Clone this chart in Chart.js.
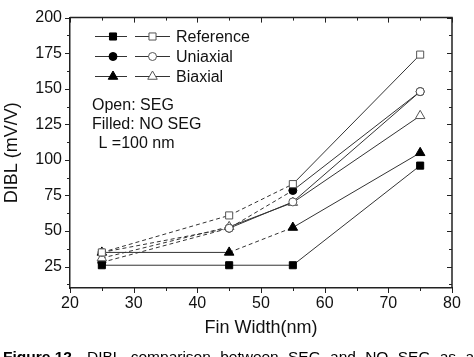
<!DOCTYPE html>
<html><head><meta charset="utf-8">
<script src="https://cdn.jsdelivr.net/npm/chart.js@4"></script>
<style>html,body{margin:0;padding:0;background:#fff;} canvas{display:block}</style>
</head><body>
<canvas id="c" width="474" height="357"></canvas>
<script>
// ---- data ----
const finWidth = [25, 45, 55, 75];
const refNoSeg = [26, 26, 26, 96];
const refSeg   = [35, 61, 83, 174];
const uniNoSeg = [28, 52, 78.5, 148];
const uniSeg   = [35, 52, 70.5, 148];
const biNoSeg  = [35, 35, 52.5, 105];
const biSeg    = [31, 53, 70, 131];
const xTicks = [20, 30, 40, 50, 60, 70, 80];
const yTicks = [25, 50, 75, 100, 125, 150, 175, 200];
const legendLabels = ['Reference', 'Uniaxial', 'Biaxial'];
const noteLines = ['Open: SEG', 'Filled: NO SEG', ' L =100 nm'];
const xTitle = 'Fin Width(nm)';
const yTitle = 'DIBL (mV/V)';
const captionBold = 'Figure 12.';
const captionText = 'DIBL comparison between SEG and NO SEG as a';

// ---- styles ----
const FONT = 'Arial, "Liberation Sans", sans-serif';
Chart.defaults.font.family = FONT;
const LINE = '#333';
const OPEN = '#555';
const DASH = [4, 3];

function pts(arr) { return finWidth.map((x, i) => ({ x: x, y: arr[i] })); }
function ds(label, arr, shape, filled, dashFlags, radius) {
  return {
    label: label,
    data: pts(arr),
    showLine: true,
    borderColor: LINE,
    borderWidth: 1,
    pointStyle: shape,
    pointRadius: radius,
    pointBorderWidth: 1,
    pointBackgroundColor: filled ? '#000' : '#fff',
    pointBorderColor: filled ? '#000' : OPEN,
    segment: { borderDash: c => dashFlags[c.p0DataIndex] ? DASH : undefined }
  };
}

const datasets = [
  ds('Reference SEG', refSeg, 'rect', false, [1, 1, 0], 5),
  ds('Uniaxial SEG', uniSeg, 'circle', false, [1, 0, 0], 4),
  ds('Biaxial SEG', biSeg, 'triangle', false, [1, 0, 0], 5.5),
  ds('Reference NO SEG', refNoSeg, 'rect', true, [0, 0, 0], 5),
  ds('Uniaxial NO SEG', uniNoSeg, 'circle', true, [1, 1, 0], 4),
  ds('Biaxial NO SEG', biNoSeg, 'triangle', true, [0, 1, 0], 5.5)
];

function minors(t) {
  const out = [];
  for (let i = 0; i < t.length - 1; i++) out.push((t[i] + t[i + 1]) / 2);
  return out;
}

const decor = {
  id: 'decor',
  afterDraw(chart) {
    const { ctx, chartArea: a, scales: { x, y } } = chart;
    ctx.save();
    ctx.strokeStyle = '#222';
    ctx.lineWidth = 1.5;
    ctx.beginPath();
    ctx.moveTo(a.left, a.top); ctx.lineTo(a.right, a.top); ctx.lineTo(a.right, a.bottom);
    ctx.stroke();
    ctx.lineWidth = 1;
    ctx.beginPath();
    const xm = minors(xTicks), ym = minors(yTicks).concat([yTicks[0] - (yTicks[1] - yTicks[0]) / 2]);
    xTicks.forEach(v => { const p = Math.round(x.getPixelForValue(v)) + 0.5;
      ctx.moveTo(p, a.bottom); ctx.lineTo(p, a.bottom + 5);
      ctx.moveTo(p, a.top); ctx.lineTo(p, a.top + 5); });
    xm.forEach(v => { const p = Math.round(x.getPixelForValue(v)) + 0.5;
      ctx.moveTo(p, a.bottom); ctx.lineTo(p, a.bottom + 3);
      ctx.moveTo(p, a.top); ctx.lineTo(p, a.top + 3); });
    yTicks.forEach(v => { const p = Math.round(y.getPixelForValue(v)) + 0.5;
      ctx.moveTo(a.left - 5, p); ctx.lineTo(a.left, p);
      ctx.moveTo(a.right - 5, p); ctx.lineTo(a.right, p); });
    ym.forEach(v => { const p = Math.round(y.getPixelForValue(v)) + 0.5;
      ctx.moveTo(a.left - 3, p); ctx.lineTo(a.left, p);
      ctx.moveTo(a.right - 3, p); ctx.lineTo(a.right, p); });
    ctx.stroke();

    // legend (filled + open marker per row)
    const metas = chart.data.datasets;
    const rows = [[3, 0], [4, 1], [5, 2]];
    ctx.font = '16px ' + FONT;
    ctx.fillStyle = '#111';
    ctx.textBaseline = 'alphabetic';
    rows.forEach((r, i) => {
      const cy = 36.5 + i * 20;
      ctx.strokeStyle = LINE; ctx.lineWidth = 1;
      ctx.beginPath();
      ctx.moveTo(95, cy); ctx.lineTo(127, cy);
      ctx.moveTo(135, cy); ctx.lineTo(170, cy);
      ctx.stroke();
      [[r[0], 113], [r[1], 152.5]].forEach(([di, px]) => {
        const d = metas[di];
        ctx.fillStyle = d.pointBackgroundColor;
        ctx.strokeStyle = d.pointBorderColor;
        Chart.helpers.drawPoint(ctx, { pointStyle: d.pointStyle, radius: d.pointRadius, borderWidth: 1 }, px, cy);
      });
      ctx.fillStyle = '#111';
      ctx.fillText(legendLabels[i], 176, cy + 5.5);
    });
    ctx.fillText(noteLines[0], 92, 110);
    ctx.fillText(noteLines[1], 92, 128.5);
    ctx.fillText(noteLines[2], 94, 148);

    // caption (justified line, cut by the bottom edge)
    ctx.fillStyle = '#000';
    ctx.font = 'bold 15.5px ' + FONT;
    ctx.fillText(captionBold, 3, 362);
    ctx.font = '15.5px ' + FONT;
    const words = captionText.split(' ');
    const startX = 87, endX = 474;
    const wsum = words.reduce((s, w) => s + ctx.measureText(w).width, 0);
    const gap = (endX - startX - wsum) / (words.length - 1);
    let cx = startX;
    words.forEach(w => { ctx.fillText(w, cx, 362); cx += ctx.measureText(w).width + gap; });
    ctx.restore();
  }
};

new Chart(document.getElementById('c'), {
  type: 'scatter',
  data: { datasets: datasets },
  options: {
    responsive: false,
    animation: false,
    layout: { padding: { top: 12, right: 22, bottom: 18, left: 0 } },
    plugins: { legend: { display: false }, tooltip: { enabled: false } },
    scales: {
      x: {
        type: 'linear', min: 20, max: 80,
        afterBuildTicks: s => { s.ticks = xTicks.map(v => ({ value: v })); },
        afterFit: s => { s.height = 51; },
        grid: { display: false, drawTicks: false },
        border: { display: true, color: '#222', width: 1.5 },
        ticks: { font: { size: 16 }, color: '#111', padding: 6, maxRotation: 0 },
        title: { display: true, text: xTitle, font: { size: 18 }, color: '#111', padding: { top: 0, bottom: 0 } }
      },
      y: {
        type: 'linear', min: 10, max: 200,
        afterBuildTicks: s => { s.ticks = yTicks.map(v => ({ value: v })); },
        afterFit: s => { s.width = 70; },
        grid: { display: false, drawTicks: false },
        border: { display: true, color: '#222', width: 1.5 },
        ticks: { font: { size: 16 }, color: '#111', padding: 8 },
        title: { display: true, text: yTitle, font: { size: 18 }, color: '#111', padding: { top: 1, bottom: 0 } }
      }
    }
  },
  plugins: [decor]
});
</script>
</body></html>
